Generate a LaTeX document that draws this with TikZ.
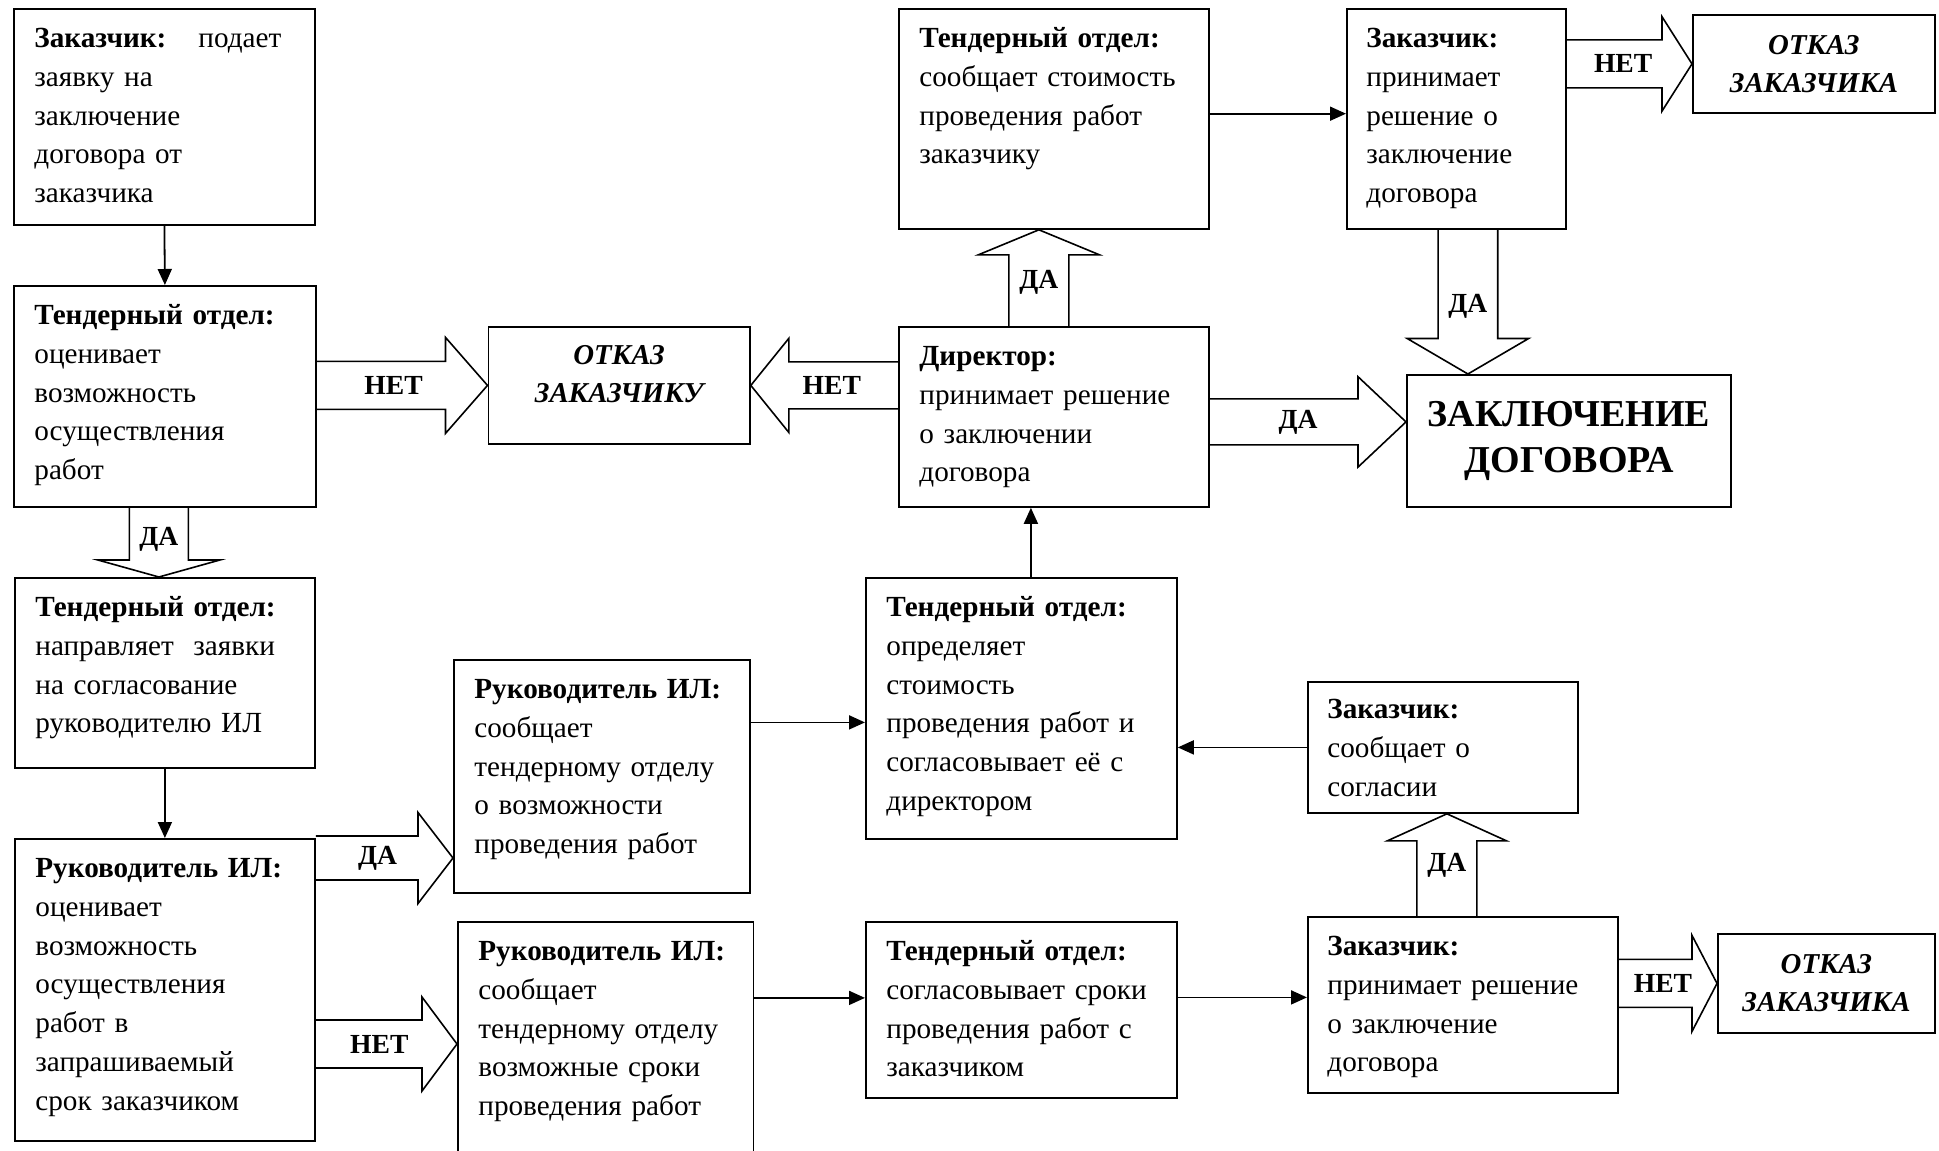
\documentclass[tikz,border=0pt]{standalone}
\usepackage{fontspec}
\setmainfont{Liberation Serif}
\usetikzlibrary{calc,arrows.meta}

% wide hollow arrow: [label pos] name, start, tip, label, half shaft, half head, head length
\newcommand{\bigarrow}[8][0.45]{%
  \coordinate (#2-s) at (#3);
  \coordinate (#2-e) at (#4);
  \coordinate (#2-h) at ($(#2-e)!#8!(#2-s)$);
  \draw[fat] ($(#2-s)!#6!90:(#2-e)$) -- ($(#2-h)!#6!90:(#2-e)$) -- ($(#2-h)!#7!90:(#2-e)$)
    -- (#2-e) -- ($(#2-h)!#7!-90:(#2-e)$) -- ($(#2-h)!#6!-90:(#2-e)$) -- ($(#2-s)!#6!-90:(#2-e)$);
  \node[lbl] (#2) at ($(#2-s)!#1!(#2-e)$) {#5};
}

\begin{document}
\begin{tikzpicture}[x=0.5pt, y=-0.5pt,
    box/.style={draw, line width=0.9pt, anchor=north west, inner sep=0pt},
    txt/.style={anchor=north west, align=left, inner sep=0pt, text width=#1,
      font=\fontsize{14.6}{19.4}\selectfont, execute at begin node=\strut},
    txt/.default=150pt,
    endtxt/.style={align=center, inner sep=0pt, font=\fontsize{14.4}{19}\selectfont\bfseries\itshape},
    endbox/.style={box, endtxt},
    lbl/.style={inner sep=1pt, font=\fontsize{13.8}{16}\selectfont\bfseries},
    fat/.style={line width=0.8pt, line join=miter},
    conn/.style={line width=0.9pt, -{Triangle[length=8pt,width=7pt]}}]
  \useasboundingbox (0,0) rectangle (1939,1151);

  % left column
  \node[box, minimum width=150.5pt, minimum height=108pt] (A) at (13,8) {};
  \node[txt=123.5pt] (A-t) at ([shift={(10.5pt,-6pt)}]A.north west)
    {\textbf{Заказчик:}\hfill подает\\заявку на\\заключение\\договора от\\заказчика};
  \node[box, minimum width=151pt, minimum height=110.5pt] (B) at (13,285) {};
  \node[txt] (B-t) at ([shift={(10.5pt,-6pt)}]B.north west)
    {\textbf{Тендерный отдел:}\\оценивает\\возможность\\осуществления\\работ};
  \node[box, minimum width=150pt, minimum height=95pt] (C) at (14,577) {};
  \node[txt] (C-t) at ([shift={(10.5pt,-6pt)}]C.north west)
    {\textbf{Тендерный отдел:}\\направляет\ \ заявки\\на согласование\\руководителю ИЛ};
  \node[box, minimum width=150pt, minimum height=151pt] (D) at (14,838) {};
  \node[txt] (D-t) at ([shift={(10.5pt,-6pt)}]D.north west)
    {\textbf{Руководитель ИЛ:}\\оценивает\\возможность\\осуществления\\работ в\\запрашиваемый\\срок заказчиком};

  % second column
  \node[box, minimum width=130.75pt, minimum height=58.5pt] (E) at (487.5,326) {};
  \node[endtxt] (E-t) at ([yshift=5.5pt]E.center) {ОТКАЗ\\ЗАКАЗЧИКУ};
  \node[box, minimum width=148pt, minimum height=116.5pt] (F) at (453,659) {};
  \node[txt] (F-t) at ([shift={(10.5pt,-6pt)}]F.north west)
    {\textbf{Руководитель ИЛ:}\\сообщает\\тендерному отделу\\о возможности\\проведения работ};
  \node[box, minimum width=147.75pt, minimum height=120pt] (G) at (457,921) {};
  \node[txt] (G-t) at ([shift={(10.5pt,-6pt)}]G.north west)
    {\textbf{Руководитель ИЛ:}\\сообщает\\тендерному отделу\\возможные сроки\\проведения работ};

  % third column
  \node[box, minimum width=155pt, minimum height=110pt] (H) at (898,8) {};
  \node[txt] (H-t) at ([shift={(10.5pt,-6pt)}]H.north west)
    {\textbf{Тендерный отдел:}\\сообщает стоимость\\проведения работ\\заказчику};
  \node[box, minimum width=155pt, minimum height=90pt] (I) at (898,326) {};
  \node[txt] (I-t) at ([shift={(10.5pt,-6pt)}]I.north west)
    {\textbf{Директор:}\\принимает решение\\о заключении\\договора};
  \node[box, minimum width=155.5pt, minimum height=130.5pt] (J) at (865,577) {};
  \node[txt] (J-t) at ([shift={(10.5pt,-6pt)}]J.north west)
    {\textbf{Тендерный отдел:}\\определяет\\стоимость\\проведения работ и\\согласовывает её с\\директором};
  \node[box, minimum width=155.5pt, minimum height=88pt] (K) at (865,921) {};
  \node[txt] (K-t) at ([shift={(10.5pt,-6pt)}]K.north west)
    {\textbf{Тендерный отдел:}\\согласовывает сроки\\проведения работ с\\заказчиком};

  % right part
  \node[box, minimum width=109.5pt, minimum height=110pt] (L) at (1346,8) {};
  \node[txt=100pt] (L-t) at ([shift={(10pt,-6pt)}]L.north west)
    {\textbf{Заказчик:}\\принимает\\решение о\\заключение\\договора};
  \node[endbox, minimum width=121pt, minimum height=49pt] (M) at (1692,14) {ОТКАЗ\\ЗАКАЗЧИКА};
  \node[box, align=center, minimum width=162pt, minimum height=66pt,
    font=\fontsize{19}{23}\selectfont\bfseries] (N) at (1406,374) {ЗАКЛЮЧЕНИЕ\\ДОГОВОРА};
  \node[box, minimum width=135pt, minimum height=65.5pt] (O) at (1307,681) {};
  \node[txt=120pt] (O-t) at ([shift={(10pt,-5pt)}]O.north west)
    {\textbf{Заказчик:}\\сообщает о\\согласии};
  \node[box, minimum width=155pt, minimum height=88pt] (P) at (1307,916) {};
  \node[txt] (P-t) at ([shift={(10pt,-6pt)}]P.north west)
    {\textbf{Заказчик:}\\принимает решение\\о заключение\\договора};
  \node[endbox, minimum width=108.5pt, minimum height=49.5pt] (Q) at (1717,933) {ОТКАЗ\\ЗАКАЗЧИКА};

  % thin arrows
  \draw[conn] (A.south) -- (B.north);
  \draw[conn] (C.south) -- (D.north);
  \draw[conn] ([yshift=27pt]F.east) -- ([yshift=27pt]F.east -| J.west);
  \draw[conn] ([yshift=22pt]G.east) -- ([yshift=22pt]G.east -| K.west);
  \draw[conn] ([yshift=6.25pt]K.east) -- ([yshift=6.25pt]K.east -| P.west);
  \draw[conn] (O.west) -- (O.west -| J.east);
  \draw[conn] ([xshift=4.75pt]J.north) -- ([xshift=4.75pt]J.north |- I.south);
  \draw[conn] ([yshift=2.6pt]H.east) -- ([yshift=2.6pt]H.east -| L.west);

  % wide arrows
  \bigarrow{BE}{B.east |- E.west}{BE-s -| E.west}{НЕТ}{12pt}{24pt}{21pt}
  \bigarrow{BC}{[xshift=-3pt]B.south}{BC-s |- C.north}{ДА}{14.75pt}{30.5pt}{8.5pt}
  \bigarrow{DF}{[yshift=-10pt]D.north east}{DF-s -| F.west}{ДА}{11pt}{22.75pt}{17.5pt}
  \bigarrow{DG}{[yshift=-103pt]D.north east}{DG-s -| G.west}{НЕТ}{12pt}{23.5pt}{17.5pt}
  \bigarrow{IE}{I.west |- E.east}{E.east}{НЕТ}{11.75pt}{23.5pt}{19pt}
  \bigarrow{IH}{[xshift=-7.5pt]H.south |- I.north}{[xshift=-7.5pt]H.south}{ДА}{15pt}{30.25pt}{12.5pt}
  \bigarrow{IN}{[yshift=-2.5pt]I.east}{IN-s -| N.west}{ДА}{11.5pt}{22.6pt}{24pt}
  \bigarrow{LM}{L.east |- M.west}{M.west}{НЕТ}{12pt}{23.6pt}{15pt}
  \bigarrow[0.53]{LN}{[xshift=5.75pt]L.south}{LN-s |- N.north}{ДА}{14.9pt}{30.35pt}{17.75pt}
  \bigarrow[0.5]{PO}{[xshift=2pt]O.south |- P.north}{[xshift=2pt]O.south}{ДА}{15pt}{29.75pt}{13.5pt}
  \bigarrow{PQ}{P.east |- Q.west}{Q.west}{НЕТ}{12pt}{24pt}{12.5pt}
\end{tikzpicture}
\end{document}
